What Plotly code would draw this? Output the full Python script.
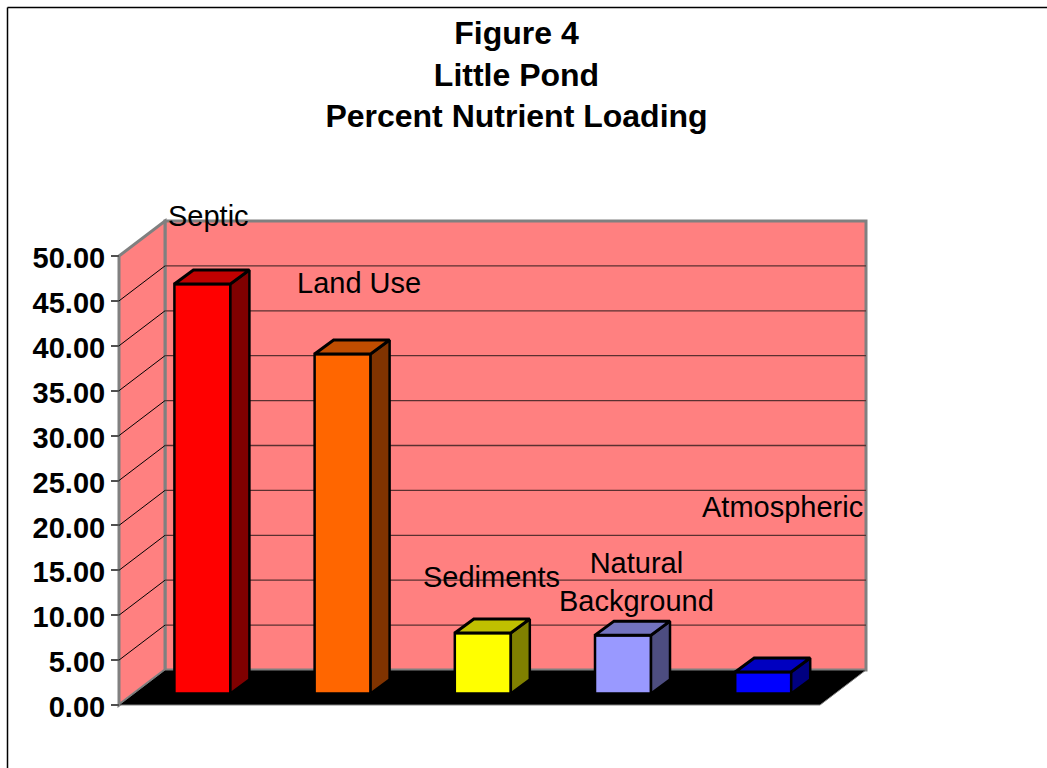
import plotly.graph_objects as go

categories = ["Septic", "Land Use", "Sediments", "Natural<br>Background", "Atmospheric"]
values = [45.6, 37.8, 6.74, 6.5, 2.4]
front_colors = ["#FF0000", "#FF6600", "#FFFF00", "#9999FF", "#0000FF"]
top_colors = ["#C00000", "#C04D00", "#C0C000", "#7373BF", "#0000C0"]
side_colors = ["#800000", "#803300", "#808000", "#4D4D80", "#000080"]
tick_values = [0, 5, 10, 15, 20, 25, 30, 35, 40, 45, 50]
title_lines = ["Figure 4", "Little Pond", "Percent Nutrient Loading"]

W, H = 1047, 768
X0_PX, Y0_PX = 119, 705
UNIT_X, UNIT_Y = 140.2, 8.98
FONT = "Liberation Sans, Arial, sans-serif"


def px_x(p):
    return (p - X0_PX) / UNIT_X


def px_y(p):
    return (Y0_PX - p) / UNIT_Y


# wall depth and bar depth, in axis units
DX, DY = 46 / UNIT_X, 35 / UNIT_Y
BAR_DX, BAR_DY = 19 / UNIT_X, 14 / UNIT_Y
BAR_W = 56 / UNIT_X
BAR_BASE = px_y(693.5)
BAR_SHIFT = 0.0985 - 0.5 / UNIT_X
N = len(categories)
TOP = tick_values[-1]
label_px = [(208, 216), (358.5, 283), (491.5, 577), (636, 582), (782, 507)]


def poly(points):
    return "M " + " L ".join(f"{x} {y}" for x, y in points) + " Z"


WALL = "#FF8080"
GREY = "#808080"
shapes = [
    dict(type="path", path=poly([(DX, DY), (N + DX, DY), (N + DX, TOP + DY), (DX, TOP + DY)]),
         xref="x", yref="y", layer="below", fillcolor=WALL, line=dict(color=GREY, width=3)),
    dict(type="path", path=poly([(0, 0), (DX, DY), (DX, TOP + DY), (0, TOP)]),
         xref="x", yref="y", layer="below", fillcolor=WALL, line=dict(color=GREY, width=3)),
    dict(type="path", path=poly([(0, 0), (N, 0), (N + DX, DY), (DX, DY)]),
         xref="x", yref="y", layer="below", fillcolor="#000000", line=dict(color=GREY, width=1)),
]
for v in tick_values[1:-1]:
    shapes.append(dict(type="line", x0=0, y0=v, x1=DX, y1=v + DY, xref="x", yref="y",
                       layer="below", line=dict(color="#000000", width=1)))
    shapes.append(dict(type="line", x0=DX, y0=v + DY, x1=N + DX, y1=v + DY, xref="x", yref="y",
                       layer="below", line=dict(color="#5A3030", width=1.3)))
# page frame
shapes.append(dict(type="line", xref="paper", yref="paper", x0=7.5 / W, x1=1, y0=1 - 7.5 / H, y1=1 - 7.5 / H,
                   line=dict(color="#000000", width=1.5)))
shapes.append(dict(type="line", xref="paper", yref="paper", x0=7.5 / W, x1=7.5 / W, y0=0, y1=1 - 7.5 / H,
                   line=dict(color="#000000", width=1.5)))

centers = [i + 0.5 + BAR_SHIFT for i in range(N)]

fig = go.Figure()
fig.add_trace(go.Bar(x=centers, y=values, base=BAR_BASE, width=BAR_W,
                     marker=dict(color=front_colors, line=dict(color="#000000", width=2.5)),
                     hoverinfo="skip", showlegend=False))

for c, v, tc, sc in zip(centers, values, top_colors, side_colors):
    l, r = c - BAR_W / 2, c + BAR_W / 2
    t = BAR_BASE + v
    fig.add_trace(go.Scatter(x=[r, r + BAR_DX, r + BAR_DX, r, r],
                             y=[BAR_BASE, BAR_BASE + BAR_DY, t + BAR_DY, t, BAR_BASE],
                             mode="lines", fill="toself", fillcolor=sc,
                             line=dict(color="#000000", width=2.5),
                             hoverinfo="skip", showlegend=False))
    fig.add_trace(go.Scatter(x=[l, l + BAR_DX, r + BAR_DX, r, l],
                             y=[t, t + BAR_DY, t + BAR_DY, t, t],
                             mode="lines", fill="toself", fillcolor=tc,
                             line=dict(color="#000000", width=3),
                             hoverinfo="skip", showlegend=False))

annotations = [
    dict(x=px_x(px), y=px_y(py), xref="x", yref="y", text=name, showarrow=False,
         xanchor="center", yanchor="middle", font=dict(family=FONT, size=29, color="#000000"))
    for name, (px, py) in zip(categories, label_px)
]

fig.update_layout(
    width=W, height=H, autosize=False,
    margin=dict(l=0, r=0, t=0, b=0, pad=0),
    paper_bgcolor="#FFFFFF", plot_bgcolor="#FFFFFF",
    showlegend=False, barmode="overlay",
    shapes=shapes, annotations=annotations,
    title=dict(text="<br>".join(title_lines), x=516.5 / W, xanchor="center",
               y=1 - 44 / H, yanchor="top",
               font=dict(family=FONT, size=32, color="#000000", weight="bold")),
    xaxis=dict(range=[px_x(0), px_x(W)], visible=False, fixedrange=True),
    yaxis=dict(range=[px_y(H), px_y(0)], anchor="free", position=X0_PX / W,
               tickmode="array", tickvals=tick_values,
               ticktext=[f"{v:.2f}" for v in tick_values],
               ticks="outside", ticklen=8, tickwidth=2, tickcolor="#505050",
               ticklabelshift=2,
               showgrid=False, zeroline=False, showline=False, fixedrange=True,
               tickfont=dict(family=FONT, size=29, color="#000000", weight="bold")),
)

fig.write_html("out.html", config={"displayModeBar": False},
               post_script="document.body.style.margin='0';document.body.style.overflow='hidden';")
